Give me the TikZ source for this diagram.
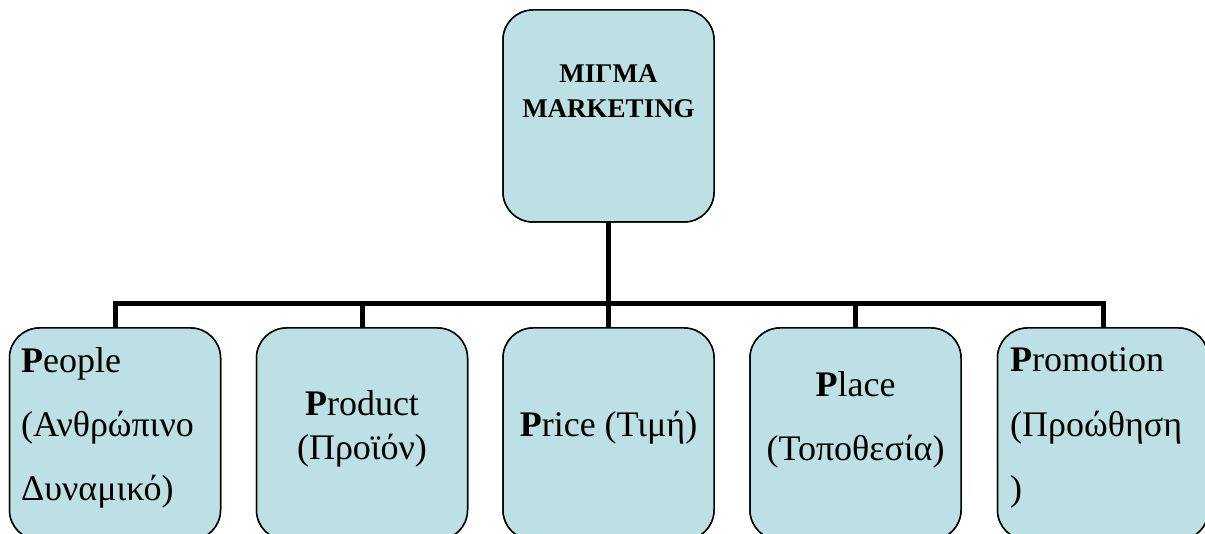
\documentclass[tikz,border=0pt]{standalone}
\usepackage{fontspec}
\setmainfont{Liberation Serif}
\definecolor{boxfill}{HTML}{BCE0E3}
\begin{document}
\begin{tikzpicture}[x=1pt,y=1pt,
  mbox/.style={draw=black, line width=1.5pt, fill=boxfill, rounded corners=30pt, minimum width=211pt, minimum height=212pt, inner sep=0pt, outer sep=0pt},
  conn/.style={line width=5pt, line join=miter},
  lbl/.style={font=\fontsize{36}{40}\selectfont, inner sep=0pt},
  ttl/.style={font=\fontsize{27}{30}\selectfont\bfseries, inner sep=0pt}]
\useasboundingbox (0,0) rectangle (1205,533);
\clip (0,0) rectangle (1205,533);
\coordinate (barL) at (115,229);
\node[mbox] (top) at (608.5,417) {};
\node[mbox] (b1) at (115,99) {};
\node[mbox] (b2) at (362,99) {};
\node[mbox] (b3) at (608.5,99) {};
\node[mbox] (b4) at (855.5,99) {};
\node[mbox] (b5) at (1103,99) {};
% connectors
\draw[conn] (b1.north) -- (b1.north |- barL) -- (b5.north |- barL) -- (b5.north);
\draw[conn] (top.south) -- (b3.north);
\draw[conn] (b2.north) -- (b2.north |- barL);
\draw[conn] (b4.north) -- (b4.north |- barL);
% redraw boxes on top of connector ends
\node[mbox] at (608.5,417) {};
\node[mbox] at (115,99) {};
\node[mbox] at (362,99) {};
\node[mbox] at (608.5,99) {};
\node[mbox] at (855.5,99) {};
\node[mbox] at (1103,99) {};
% texts
\node[ttl, anchor=base] (t1) at (608.5,450) {ΜΙΓΜΑ};
\node[ttl, anchor=base] (t2) at (608.5,415) {MARKETING};
\node[lbl, anchor=base west] (p1) at (21,160) {\textbf{P}eople};
\node[lbl, anchor=base west] (p2) at (21,96) {(Ανθρώπινο};
\node[lbl, anchor=base west] (p3) at (21,33) {Δυναμικό)};
\node[lbl, anchor=base] (q1) at (362,117) {\textbf{P}roduct};
\node[lbl, anchor=base] (q2) at (362,73) {(Προϊόν)};
\node[lbl, anchor=base] (r1) at (608.5,96) {\textbf{P}rice (Τιμή)};
\node[lbl, anchor=base] (s1) at (855.5,136) {\textbf{P}lace};
\node[lbl, anchor=base] (s2) at (855.5,72) {(Τοποθεσία)};
\node[lbl, anchor=base west] (u1) at (1010,161) {\textbf{P}romotion};
\node[lbl, anchor=base west] (u2) at (1010,96) {(Προώθηση};
\node[lbl, anchor=base west] (u3) at (1010,33) {)};
\end{tikzpicture}
\end{document}
